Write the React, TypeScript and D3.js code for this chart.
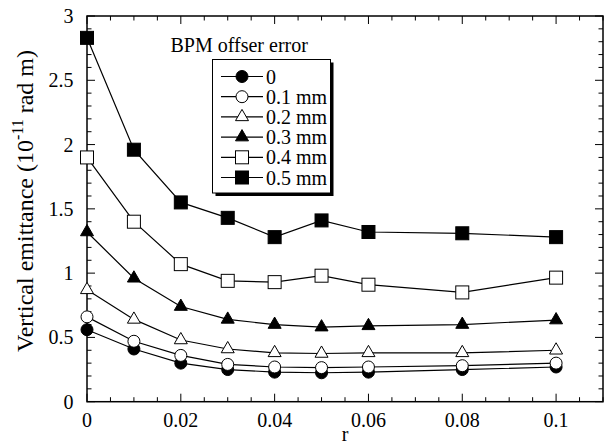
import React from "react";
import * as d3 from "d3";

const rValues = [0, 0.01, 0.02, 0.03, 0.04, 0.05, 0.06, 0.08, 0.1];
const seriesNames = ["0", "0.1 mm", "0.2 mm", "0.3 mm", "0.4 mm", "0.5 mm"];
const series0 = [0.56, 0.41, 0.3, 0.25, 0.23, 0.225, 0.23, 0.25, 0.27];
const series01 = [0.66, 0.47, 0.36, 0.29, 0.27, 0.265, 0.27, 0.28, 0.3];
const series02 = [0.87, 0.64, 0.48, 0.41, 0.38, 0.375, 0.38, 0.38, 0.4];
const series03 = [1.32, 0.96, 0.74, 0.64, 0.6, 0.58, 0.59, 0.6, 0.635];
const series04 = [1.9, 1.4, 1.07, 0.94, 0.93, 0.98, 0.91, 0.85, 0.965];
const series05 = [2.83, 1.96, 1.55, 1.43, 1.28, 1.41, 1.32, 1.31, 1.28];
const markerTypes = ["circleFilled", "circleOpen", "triOpen", "triFilled", "squareOpen", "squareFilled"];
const xTickLabels = ["0", "0.02", "0.04", "0.06", "0.08", "0.1"];
const yTickLabels = ["0", "0.5", "1", "1.5", "2", "2.5", "3"];

const allSeries = [series0, series01, series02, series03, series04, series05];

const W = 607;
const H = 445;
const left = 87;
const right = 603;
const top = 16;
const bottom = 401.7;
const FONT = "'Liberation Serif', 'Times New Roman', serif";

function Marker({ type, cx, cy }: { type: string; cx: number; cy: number }) {
  const filled = type.endsWith("Filled");
  const fill = filled ? "#000" : "#fff";
  if (type.startsWith("circle")) {
    return <circle cx={cx} cy={cy} r={6} fill={fill} stroke="#000" strokeWidth={1} />;
  }
  if (type.startsWith("square")) {
    return <rect x={cx - 6.5} y={cy - 6.5} width={13} height={13} fill={fill} stroke="#000" strokeWidth={1} />;
  }
  const s = 13;
  const h = s * 0.866;
  const pts = [
    [cx, cy - (2 * h) / 3],
    [cx - s / 2, cy + h / 3],
    [cx + s / 2, cy + h / 3],
  ];
  return <polygon points={pts.map((p) => p.join(",")).join(" ")} fill={fill} stroke="#000" strokeWidth={1} />;
}

export default function App() {
  const x = d3.scaleLinear().domain([0, 0.11]).range([left, right]);
  const y = d3.scaleLinear().domain([0, 3]).range([bottom, top]);

  const xMajor = d3.range(0, 0.1001, 0.02);
  const xMinor = d3.range(0, 0.1101, 0.005);
  const yMajor = d3.range(0, 3.001, 0.5);
  const yMinor = d3.range(0, 3.001, 0.1);

  const line = d3
    .line<number>()
    .x((_, i) => x(rValues[i]))
    .y((d) => y(d));

  const legX = 212.5;
  const legY = 59.5;
  const legW = 118;
  const legH = 133.5;
  const rowY0 = 76.5;
  const rowStep = 20.2;

  return (
    <svg
      width={W}
      height={H}
      style={{ position: "absolute", left: 0, top: 0, background: "#fff" }}
      fontFamily={FONT}
    >
      <rect x={0} y={0} width={W} height={H} fill="#fff" />
      {/* ticks */}
      {xMinor.map((v, i) => {
        const isMajor = Math.abs(v / 0.02 - Math.round(v / 0.02)) < 1e-6;
        const len = isMajor ? 8 : 4.5;
        return (
          <g key={"xt" + i}>
            <line x1={x(v)} x2={x(v)} y1={bottom} y2={bottom - len} stroke="#000" strokeWidth={1} />
            <line x1={x(v)} x2={x(v)} y1={top} y2={top + len} stroke="#000" strokeWidth={1} />
          </g>
        );
      })}
      {yMinor.map((v, i) => {
        const isMajor = Math.abs(v / 0.5 - Math.round(v / 0.5)) < 1e-6;
        const len = isMajor ? 8 : 4.5;
        return (
          <g key={"yt" + i}>
            <line x1={left} x2={left + len} y1={y(v)} y2={y(v)} stroke="#000" strokeWidth={1} />
            <line x1={right} x2={right - len} y1={y(v)} y2={y(v)} stroke="#000" strokeWidth={1} />
          </g>
        );
      })}
      <rect x={left} y={top} width={right - left} height={bottom - top} fill="none" stroke="#000" strokeWidth={1.5} />
      {/* tick labels */}
      {xMajor.map((v, i) => (
        <text key={"xl" + i} x={x(v)} y={427} textAnchor="middle" fontSize={20}>
          {xTickLabels[i]}
        </text>
      ))}
      {yMajor.map((v, i) => (
        <text key={"yl" + i} x={73.5} y={y(v)} dy="0.35em" textAnchor="end" fontSize={20}>
          {yTickLabels[i]}
        </text>
      ))}
      <text x={(left + right) / 2} y={441} textAnchor="middle" fontSize={20}>
        r
      </text>
      <text transform={`translate(33,201) rotate(-90)`} textAnchor="middle" fontSize={24}>
        Vertical emittance (10
        <tspan dy={-10} fontSize={16}>-11</tspan>
        <tspan dy={10}> rad m)</tspan>
      </text>
      {/* data */}
      {allSeries.map((s, si) => (
        <g key={"s" + si}>
          <path d={line(s) || ""} fill="none" stroke="#000" strokeWidth={1.2} />
          {s.map((v, i) => (
            <Marker key={i} type={markerTypes[si]} cx={x(rValues[i])} cy={y(v)} />
          ))}
        </g>
      ))}
      {/* legend */}
      <text x={170.5} y={52} fontSize={20}>
        BPM offser error
      </text>
      <rect x={legX + 3} y={legY + 3} width={legW} height={legH} fill="#000" />
      <rect x={legX} y={legY} width={legW} height={legH} fill="#fff" stroke="#000" strokeWidth={1} />
      {seriesNames.map((name, i) => {
        const ry = rowY0 + i * rowStep;
        return (
          <g key={"lg" + i}>
            <line x1={221} x2={263} y1={ry} y2={ry} stroke="#000" strokeWidth={1.2} />
            <Marker type={markerTypes[i]} cx={242} cy={ry} />
            <text x={266} y={ry} dy="0.35em" fontSize={20}>
              {name}
            </text>
          </g>
        );
      })}
    </svg>
  );
}
